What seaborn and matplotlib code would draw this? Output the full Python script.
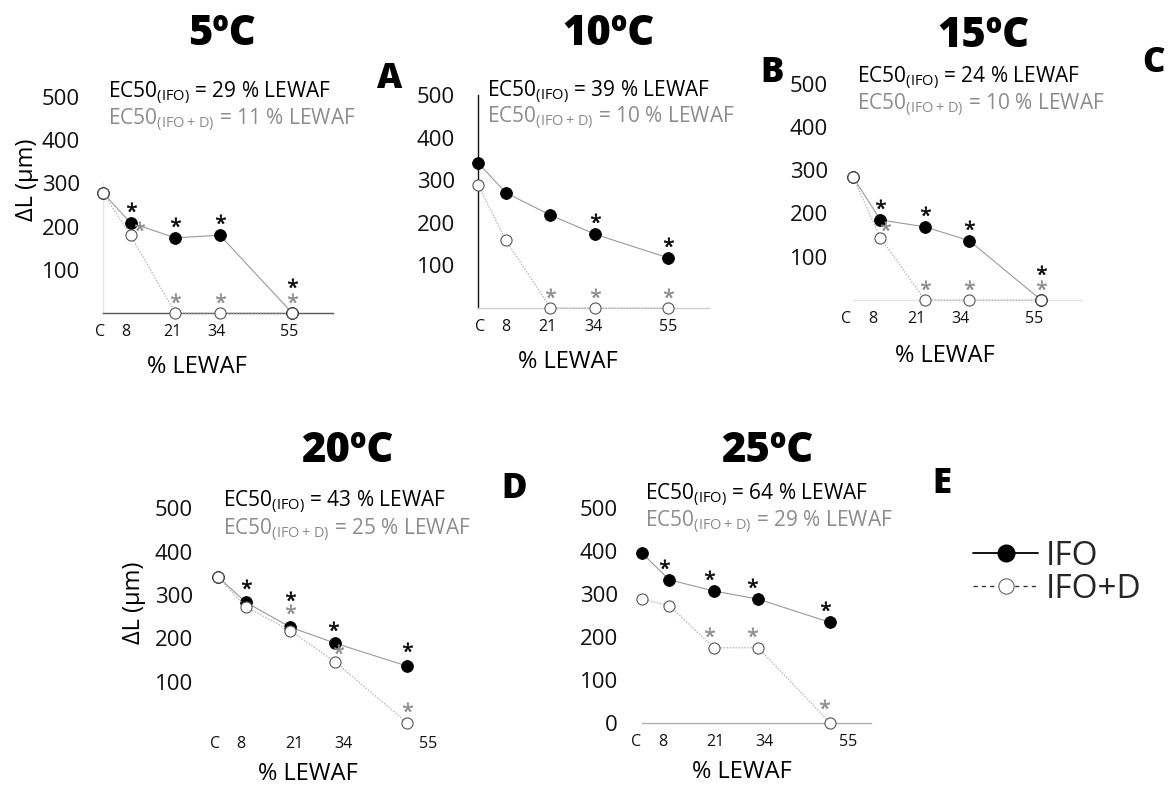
import matplotlib
matplotlib.use("Agg")
import numpy as np
import matplotlib.pyplot as plt
import seaborn as sns
import pandas as pd
from matplotlib.lines import Line2D
from matplotlib.transforms import ScaledTranslation
from matplotlib.textpath import TextPath
from matplotlib.path import Path
from matplotlib.font_manager import FontProperties

# ---------------- data ----------------
conc = [0, 8, 21, 34, 55]
tick_labels = ["C", "8", "21", "34", "55"]
temps = ["5ºC", "10ºC", "15ºC", "20ºC", "25ºC"]
letters = ["A", "B", "C", "D", "E"]

ifo_5 = [278, 209, 174, 180, 0]
ifod_5 = [278, 180, 0, 0, 0]
ifo_10 = [341, 271, 218, 173, 118]
ifod_10 = [289, 160, 0, 0, 0]
ifo_15 = [284, 185, 169, 137, 0]
ifod_15 = [284, 144, 0, 0, 0]
ifo_20 = [342, 284, 226, 189, 136]
ifod_20 = [342, 273, 218, 146, 5]
ifo_25 = [395, 333, 307, 288, 234]
ifod_25 = [288, 273, 175, 175, 0]

sig_ifo_5 = [0, 1, 1, 1, 1]
sig_ifod_5 = [0, 1, 1, 1, 1]
sig_ifo_10 = [0, 0, 0, 1, 1]
sig_ifod_10 = [0, 0, 1, 1, 1]
sig_ifo_15 = [0, 1, 1, 1, 1]
sig_ifod_15 = [0, 1, 1, 1, 1]
sig_ifo_20 = [0, 1, 1, 1, 1]
sig_ifod_20 = [0, 0, 1, 1, 1]
sig_ifo_25 = [0, 1, 1, 1, 1]
sig_ifod_25 = [0, 0, 1, 1, 1]

ec50_ifo = [29, 39, 24, 43, 64]
ec50_ifod = [11, 10, 10, 25, 29]

yticks_top = [100, 200, 300, 400, 500]
yticks_25 = [0, 100, 200, 300, 400, 500]

ifo_all = [ifo_5, ifo_10, ifo_15, ifo_20, ifo_25]
ifod_all = [ifod_5, ifod_10, ifod_15, ifod_20, ifod_25]
sig_ifo_all = [sig_ifo_5, sig_ifo_10, sig_ifo_15, sig_ifo_20, sig_ifo_25]
sig_ifod_all = [sig_ifod_5, sig_ifod_10, sig_ifod_15, sig_ifod_20, sig_ifod_25]
yticks_all = [yticks_top, yticks_top, yticks_top, yticks_top, yticks_25]

# ---------------- style ----------------
sns.set_theme(style="white")
plt.rcParams["font.family"] = ["Open Sans", "DejaVu Sans"]
plt.rcParams["mathtext.default"] = "regular"

W, H = 1175, 786
fig = plt.figure(figsize=(W / 100, H / 100), dpi=100)
GRAY_TXT = "#8c8c8c"
PT = 0.72  # points per pixel

# layout in pixels: x of C, px per % unit, y of zero, px per um, tick label shifts
layout = [
    dict(x0=103, xs=3.44, y0=313, ys=0.432, ypad=23, bottom="#555555", left="#e4e4e4", left_top=300,
         tshift=[-3, -5, -3, -4, -3],
         title=(222, 45), letter=(390, 88), ec=(108, 98, 125), xl=(197, 373), yl=(27, 180)),
    dict(x0=478, xs=3.45, y0=308, ys=0.426, ypad=23, bottom="#cfcfcf", left="#111111", left_top=500,
         tshift=[2, 0, -3, -2, 0],
         title=(608, 45), letter=(772, 82), ec=(487, 97, 123), xl=(568, 368), yl=None),
    dict(x0=853, xs=3.42, y0=300, ys=0.433, ypad=25, bottom="#e2e2e2", left=None, left_top=0,
         tshift=[-7, -8, -8, -9, -7],
         title=(983, 47), letter=(1153, 72), ec=(857, 83, 110), xl=(945, 362), yl=None),
    dict(x0=218, xs=3.44, y0=725, ys=0.433, ypad=25, bottom=None, left=None, left_top=0,
         tshift=[-3, -5, 4, 8, 21],
         title=(347, 462), letter=(514, 498), ec=(223, 507, 535), xl=(308, 780), yl=(134, 603)),
    dict(x0=642, xs=3.42, y0=723, ys=0.43, ypad=24, bottom="#b0b0b0", left=None, left_top=0,
         tshift=[-6, -7, 2, 6, 18],
         title=(767, 462), letter=(942, 493), ec=(645, 500, 527), xl=(742, 778), yl=None),
]

# asterisk offsets (pixels) keyed by (panel, series, index)
star_off = {
    (0, "d", 1): (8, 6), (0, "i", 4): (0, 27),
    (2, "d", 1): (5, 9), (2, "i", 4): (0, 27),
    (3, "i", 1): (0, 15), (3, "d", 2): (0, 19), (3, "i", 2): (0, 28),
    (3, "i", 3): (-2, 14), (3, "d", 3): (3, 10), (3, "i", 4): (0, 16), (3, "d", 4): (0, 13),
    (4, "i", 1): (-5, 13), (4, "i", 2): (-5, 13), (4, "i", 3): (-6, 13), (4, "i", 4): (-5, 13),
    (4, "d", 2): (-5, 13), (4, "d", 3): (-6, 13), (4, "d", 4): (-6, 16),
}

# centred asterisk marker path
tp = TextPath((0, 0), "*", prop=FontProperties(family="Open Sans"), size=10)
v = tp.vertices
cx = (v[:, 0].min() + v[:, 0].max()) / 2
cy = (v[:, 1].min() + v[:, 1].max()) / 2
star_path = Path(v - [cx, cy], tp.codes)


def px2fig(x, y):
    return x / W, 1 - y / H


xlim = (-3, 68)
ylim = (-10, 520)

for p, L in enumerate(layout):
    left = L["x0"] + xlim[0] * L["xs"]
    right = L["x0"] + xlim[1] * L["xs"]
    top = L["y0"] - ylim[1] * L["ys"]
    bot = L["y0"] - ylim[0] * L["ys"]
    ax = fig.add_axes([left / W, 1 - bot / H, (right - left) / W, (bot - top) / H])
    ax.set_facecolor("none")
    ax.set_xlim(*xlim)
    ax.set_ylim(*ylim)

    df = pd.DataFrame({"conc": conc, "IFO": ifo_all[p], "IFO+D": ifod_all[p]})

    sns.lineplot(data=df, x="conc", y="IFO", ax=ax, color="#9a9a9a", lw=0.8,
                 marker="o", markersize=8.5, markerfacecolor="black",
                 markeredgecolor="black", markeredgewidth=0.6, zorder=3, clip_on=False)
    sns.lineplot(data=df, x="conc", y="IFO+D", ax=ax, color="#b5b5b5", lw=0.9,
                 linestyle=(0, (1.2, 1.2)), marker="o", markersize=8,
                 markerfacecolor="white", markeredgecolor="#555555",
                 markeredgewidth=0.8, zorder=4, clip_on=False)

    # asterisks
    for key, vals, sig, col in (("i", ifo_all[p], sig_ifo_all[p], "black"),
                                ("d", ifod_all[p], sig_ifod_all[p], "#8c8c8c")):
        for i, (xv, yv, s) in enumerate(zip(conc, vals, sig)):
            if not s:
                continue
            dx, dy = star_off.get((p, key, i), (0, 13 if key == "i" else 12))
            tr = ax.transData + ScaledTranslation(dx / 100, dy / 100, fig.dpi_scale_trans)
            ax.plot([xv], [yv], marker=star_path, ls="none", color=col, ms=11,
                    mew=0.4, mec=col, transform=tr, clip_on=False, zorder=5)

    # spines
    for s in ax.spines.values():
        s.set_visible(False)
    ax.spines["bottom"].set_position(("data", 0))
    ax.spines["left"].set_position(("data", 0))
    if L["bottom"]:
        ax.spines["bottom"].set_visible(True)
        ax.spines["bottom"].set_color(L["bottom"])
        ax.spines["bottom"].set_linewidth(1.0)
        ax.spines["bottom"].set_bounds(0, 67)
    if L["left"]:
        ax.spines["left"].set_visible(True)
        ax.spines["left"].set_color(L["left"])
        ax.spines["left"].set_linewidth(1.0)
        ax.spines["left"].set_bounds(0, L["left_top"])

    ax.set_xticks(np.array(conc) + np.array(L["tshift"]) / L["xs"])
    ax.set_xticklabels(tick_labels, fontsize=11.5, color="#111111")
    ax.set_yticks(yticks_all[p])
    ax.set_yticklabels([str(t) for t in yticks_all[p]], fontsize=16, color="#111111")
    ax.tick_params(axis="x", length=0, pad=8)
    ax.tick_params(axis="y", length=0, pad=L["ypad"] * PT)
    ax.set_xlabel("")
    ax.set_ylabel("")

    # texts
    fig.text(*px2fig(*L["title"]), temps[p], ha="center", va="baseline",
             fontsize=30, fontweight="heavy", color="black")
    fig.text(*px2fig(*L["letter"]), letters[p], ha="center", va="baseline",
             fontsize=25, fontweight="heavy", color="black")
    ex, ey1, ey2 = L["ec"]
    fig.text(*px2fig(ex, ey1), "EC50$_{(IFO)}$ = %d %% LEWAF" % ec50_ifo[p],
             ha="left", va="baseline", fontsize=15, color="black")
    fig.text(*px2fig(ex, ey2), "EC50$_{(IFO+D)}$ = %d %% LEWAF" % ec50_ifod[p],
             ha="left", va="baseline", fontsize=15, color=GRAY_TXT)
    fig.text(*px2fig(*L["xl"]), "% LEWAF", ha="center", va="baseline",
             fontsize=17, color="black")
    if L["yl"]:
        fig.text(*px2fig(*L["yl"]), "ΔL (µm)", ha="center", va="center",
                 rotation=90, fontsize=17, color="black")

handles = [
    Line2D([], [], color="black", lw=1.3, marker="o", ms=12, mfc="black", mec="black"),
    Line2D([], [], color="#333333", lw=1.0, ls=(0, (3, 3)), marker="o", ms=11,
           mfc="white", mec="#666666", mew=0.8),
]
fig.legend(handles, ["IFO", "IFO+D"], loc="upper left",
           bbox_to_anchor=(973 / W, 1 - 540 / H), frameon=False,
           handlelength=1.95, handletextpad=0.24, labelspacing=0.0,
           borderpad=0, borderaxespad=0, prop=dict(size=24, weight="normal"))

fig.savefig("out.png", dpi=100)
